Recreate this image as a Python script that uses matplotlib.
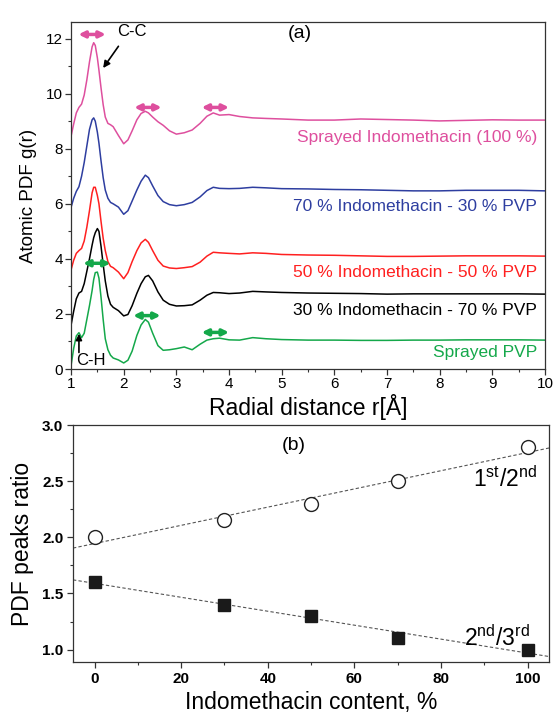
import numpy as np
import matplotlib
matplotlib.use("Agg")
import matplotlib.pyplot as plt
from matplotlib.ticker import MultipleLocator

plt.rcParams['font.family'] = ['Liberation Sans', 'DejaVu Sans']
plt.rcParams['mathtext.fontset'] = 'custom'
plt.rcParams['mathtext.rm'] = 'Liberation Sans'

# ---- panel (a): atomic PDF curves ----
r = [1.0, 1.05, 1.1, 1.15, 1.2, 1.25, 1.3, 1.35, 1.4, 1.43, 1.46, 1.5, 1.53, 1.57, 1.61,
     1.65, 1.7, 1.75, 1.8, 1.9, 2.0, 2.08, 2.16, 2.25, 2.33, 2.41, 2.47, 2.55, 2.65, 2.75,
     2.87, 3.0, 3.15, 3.3, 3.45, 3.58, 3.7, 3.82, 4.0, 4.2, 4.45, 4.7, 5.0, 5.5, 6.0, 6.5,
     7.0, 7.5, 8.0, 8.5, 9.0, 9.5, 10.0]

g_indo100 = [8.45, 8.9, 9.3, 9.5, 9.62, 9.95, 10.5, 11.15, 11.7, 11.85, 11.75, 11.3, 10.85, 10.2, 9.6,
             9.15, 8.92, 8.87, 8.8, 8.48, 8.18, 8.32, 8.65, 9.05, 9.28, 9.36, 9.3, 9.15, 8.98, 8.85,
             8.65, 8.53, 8.58, 8.68, 8.92, 9.18, 9.3, 9.22, 9.24, 9.17, 9.12, 9.1, 9.08, 9.04, 9.04, 9.08,
             9.06, 9.04, 9.01, 9.03, 9.05, 9.04, 9.04]
g_indo70 = [5.87, 6.2, 6.45, 6.62, 7.0, 7.5, 8.1, 8.7, 9.05, 9.12, 9.0, 8.6, 8.2, 7.55, 6.95,
            6.5, 6.2, 6.05, 6.0, 5.88, 5.62, 5.75, 6.1, 6.5, 6.82, 7.04, 6.95, 6.65, 6.3, 6.08,
            5.97, 5.93, 5.97, 6.05, 6.25, 6.48, 6.6, 6.56, 6.55, 6.56, 6.6, 6.58, 6.55, 6.54, 6.52, 6.51,
            6.49, 6.47, 6.47, 6.49, 6.49, 6.49, 6.47]
g_indo50 = [3.6, 3.95, 4.2, 4.3, 4.38, 4.65, 5.15, 5.75, 6.4, 6.6, 6.6, 6.3, 6.0, 5.35, 4.75,
            4.3, 3.9, 3.73, 3.68, 3.52, 3.28, 3.5, 3.9, 4.3, 4.58, 4.71, 4.6, 4.3, 3.95, 3.74,
            3.67, 3.65, 3.68, 3.72, 3.88, 4.1, 4.24, 4.22, 4.2, 4.18, 4.22, 4.2, 4.16, 4.14, 4.13, 4.11,
            4.09, 4.09, 4.1, 4.11, 4.11, 4.11, 4.1]
g_indo30 = [1.59, 2.1, 2.55, 2.76, 2.82, 3.1, 3.55, 4.0, 4.5, 4.77, 4.95, 5.1, 5.0, 4.45, 3.8,
            3.2, 2.65, 2.35, 2.24, 2.12, 1.93, 1.98, 2.3, 2.75, 3.1, 3.35, 3.4, 3.2, 2.8, 2.5,
            2.35, 2.29, 2.3, 2.33, 2.5, 2.68, 2.78, 2.77, 2.74, 2.76, 2.82, 2.8, 2.78, 2.76, 2.75, 2.74,
            2.72, 2.73, 2.73, 2.73, 2.73, 2.73, 2.72]
g_pvp = [0.12, 0.75, 1.2, 1.32, 1.14, 1.3, 1.8, 2.3, 2.85, 3.25, 3.5, 3.52, 3.3, 2.6, 1.8,
         1.1, 0.7, 0.5, 0.4, 0.33, 0.22, 0.32, 0.65, 1.22, 1.6, 1.8, 1.7, 1.3, 0.85, 0.68,
         0.7, 0.74, 0.8, 0.7, 0.9, 1.05, 1.1, 1.12, 1.06, 1.05, 1.14, 1.1, 1.07, 1.05, 1.05, 1.04,
         1.04, 1.05, 1.05, 1.06, 1.06, 1.06, 1.05]

pink = '#DE4F9E'
blue = '#2E3EA0'
red = '#FF2020'
green = '#14A84A'

curves = [
    (g_indo100, pink, 'Sprayed Indomethacin (100 %)', 8.39),
    (g_indo70, blue, '70 % Indomethacin - 30 % PVP', 5.9),
    (g_indo50, red, '50 % Indomethacin - 50 % PVP', 3.52),
    (g_indo30, 'black', '30 % Indomethacin - 70 % PVP', 2.12),
    (g_pvp, green, 'Sprayed PVP', 0.59),
]

# ---- panel (b): peak ratios ----
content = [0, 30, 50, 70, 100]
ratio_12 = [2.0, 2.15, 2.3, 2.5, 2.8]
ratio_23 = [1.6, 1.4, 1.3, 1.1, 1.0]

fig = plt.figure(figsize=(5.55, 7.16), dpi=100)
ax1 = fig.add_axes([0.128, 0.4846, 0.854, 0.4846])
ax2 = fig.add_axes([0.1315, 0.0754, 0.858, 0.331])

for g, c, lab, ly in curves:
    ax1.plot(r, g, color=c, lw=1.1)
    ax1.text(9.85, ly, lab, color=c, fontsize=12.5, ha='right', va='center')

ax1.set_xlim(1, 10)
ax1.set_ylim(0, 12.6)
ax1.xaxis.set_major_locator(MultipleLocator(1))
ax1.xaxis.set_minor_locator(MultipleLocator(0.5))
ax1.yaxis.set_major_locator(MultipleLocator(2))
ax1.yaxis.set_minor_locator(MultipleLocator(1))
ax1.set_xlabel('Radial distance r[Å]', fontsize=16.5, labelpad=2)
ax1.set_ylabel('Atomic PDF g(r)', fontsize=13.5, labelpad=6)
ax1.text(5.35, 12.2, '(a)', fontsize=14, ha='center', va='center')

# double arrows marking peak positions
def dbl(ax, x0, x1, y, c):
    ax.annotate('', xy=(x1, y), xytext=(x0, y),
                arrowprops=dict(arrowstyle='<|-|>', color=c, lw=2.5,
                                mutation_scale=9, shrinkA=0, shrinkB=0))

for x0, x1, y in [(1.14, 1.66, 12.15), (2.2, 2.72, 9.5), (3.48, 4.0, 9.5)]:
    dbl(ax1, x0, x1, y, pink)
for x0, x1, y in [(1.23, 1.75, 3.84), (2.18, 2.7, 1.94), (3.48, 4.0, 1.33)]:
    dbl(ax1, x0, x1, y, green)

ax1.annotate('', xy=(1.61, 10.93), xytext=(1.9, 11.72),
             arrowprops=dict(arrowstyle='-|>', color='black', lw=1.2, mutation_scale=10,
                             shrinkA=0, shrinkB=0))
ax1.text(2.16, 12.27, 'C-C', fontsize=12, ha='center', va='center')
ax1.annotate('', xy=(1.15, 1.28), xytext=(1.15, 0.6),
             arrowprops=dict(arrowstyle='-|>', color='black', lw=1.2, mutation_scale=9,
                             shrinkA=0, shrinkB=0))
ax1.text(1.37, 0.3, 'C-H', fontsize=12, ha='center', va='center')

# panel (b)
xfit = np.array([-5, 105])
for y in (ratio_12, ratio_23):
    k, b = np.polyfit(content, y, 1)
    ax2.plot(xfit, k * xfit + b, ls=(0, (3, 2)), color='#555555', lw=0.8)
ax2.plot(content, ratio_12, 'o', mfc='white', mec='#222222', mew=1.0, ms=10)
ax2.plot(content, ratio_23, 's', mfc='#1a1a1a', mec='#1a1a1a', ms=8.5)

ax2.set_xlim(-5, 105)
ax2.set_ylim(0.89, 3.0)
ax2.xaxis.set_major_locator(MultipleLocator(20))
ax2.xaxis.set_minor_locator(MultipleLocator(10))
ax2.yaxis.set_major_locator(MultipleLocator(0.5))
ax2.yaxis.set_minor_locator(MultipleLocator(0.25))
ax2.yaxis.set_major_formatter(matplotlib.ticker.FormatStrFormatter('%.1f'))
ax2.set_xlabel('Indomethacin content, %', fontsize=16.5, labelpad=4)
ax2.set_ylabel('PDF peaks ratio', fontsize=16.5, labelpad=6)
ax2.text(46, 2.82, '(b)', fontsize=14, ha='center', va='center')
ax2.text(94.7, 2.52, r'1$^{\rm st}$/2$^{\rm nd}$', fontsize=16.5, ha='center', va='center')
ax2.text(93, 1.1, r'2$^{\rm nd}$/3$^{\rm rd}$', fontsize=16.5, ha='center', va='center')

for ax in (ax1, ax2):
    for s in ax.spines.values():
        s.set_linewidth(0.9)
        s.set_color('#333333')
    ax.tick_params(which='major', direction='out', length=4, width=0.9, color='#333333')
    ax.tick_params(which='minor', direction='out', length=2.5, width=0.8, color='#333333')
ax1.tick_params(labelsize=11, pad=2)
ax2.tick_params(labelsize=11, pad=3)
for t in ax2.get_xticklabels() + ax2.get_yticklabels():
    t.set_fontweight('bold')

fig.savefig('out.png', dpi=100)
